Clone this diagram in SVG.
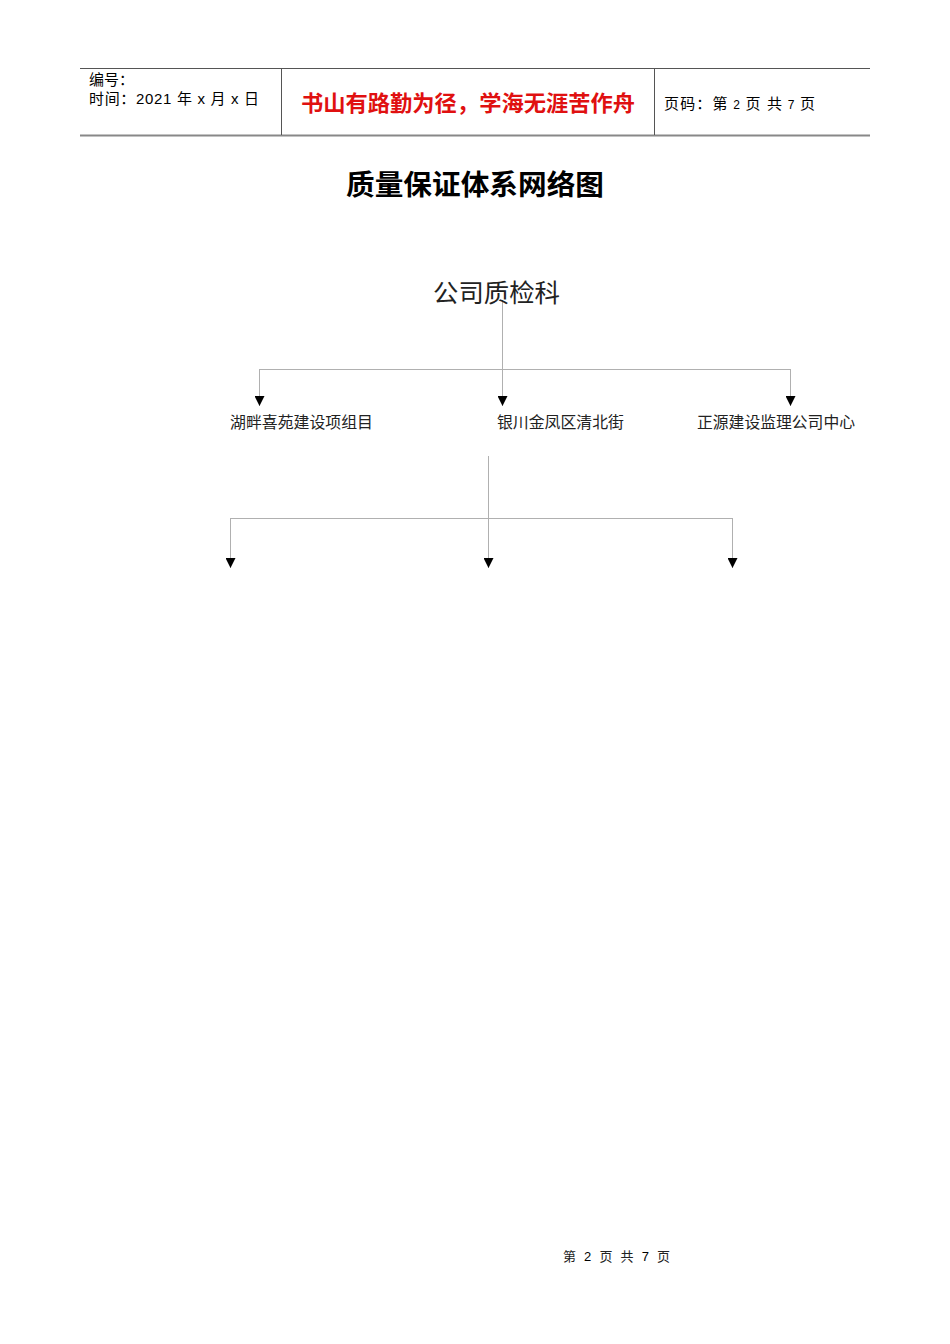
<svg xmlns="http://www.w3.org/2000/svg" width="950" height="1344" viewBox="0 0 950 1344">
<style>
.t{font-family:"Liberation Sans","Noto Sans CJK SC",sans-serif;fill:#000}
.s{font-family:"Liberation Serif","Noto Sans CJK SC",serif;fill:#222}
.ln{stroke:#b0b0b0;stroke-width:1;fill:none}
</style>
<defs>
<marker id="ah" markerWidth="10" markerHeight="10" refX="10" refY="5" orient="auto" markerUnits="userSpaceOnUse" viewBox="0 0 10 10">
<path d="M0,0 L10,5 L0,10 Z" fill="#000"/>
</marker>
</defs>
<rect width="950" height="1344" fill="#fff"/>
<g id="header">
<line x1="80" y1="68.5" x2="870" y2="68.5" stroke="#555" stroke-width="1"/>
<line x1="80" y1="135.5" x2="870" y2="135.5" stroke="#888" stroke-width="2"/>
<line x1="281.5" y1="68" x2="281.5" y2="135" stroke="#555" stroke-width="1"/>
<line x1="654.5" y1="68" x2="654.5" y2="135" stroke="#555" stroke-width="1"/>
<text class="t" x="89" y="85" font-size="15">编号：</text>
<text class="t" x="89" y="104" font-size="15" textLength="170" lengthAdjust="spacing">时间：2021 年 x 月 x 日</text>
<text x="301" y="111" font-size="22" font-weight="bold" fill="#e01010" font-family="'Noto Sans CJK SC',sans-serif" textLength="334" lengthAdjust="spacingAndGlyphs">书山有路勤为径，学海无涯苦作舟</text>
<text class="t" x="664" y="109" font-size="15" textLength="151" lengthAdjust="spacing">页码：第<tspan font-size="12"> 2 </tspan>页 共<tspan font-size="12"> 7 </tspan>页</text>
</g>
<text id="title" class="t" x="346" y="195" font-size="28" font-weight="bold" textLength="258" lengthAdjust="spacingAndGlyphs">质量保证体系网络图</text>
<g id="connectors">
<line class="ln" x1="502.5" y1="300" x2="502.5" y2="406" marker-end="url(#ah)"/>
<line class="ln" x1="259.5" y1="369.5" x2="790.5" y2="369.5"/>
<line class="ln" x1="259.5" y1="369" x2="259.5" y2="406" marker-end="url(#ah)"/>
<line class="ln" x1="790.5" y1="369" x2="790.5" y2="406" marker-end="url(#ah)"/>
<line class="ln" x1="488.5" y1="456" x2="488.5" y2="568" marker-end="url(#ah)"/>
<line class="ln" x1="230.5" y1="518.5" x2="732.5" y2="518.5"/>
<line class="ln" x1="230.5" y1="518" x2="230.5" y2="568" marker-end="url(#ah)"/>
<line class="ln" x1="732.5" y1="518" x2="732.5" y2="568" marker-end="url(#ah)"/>
</g>
<g id="n_root"><text class="s" x="433" y="302" font-size="25" textLength="127" lengthAdjust="spacingAndGlyphs">公司质检科</text></g>
<g id="n1"><text class="s" x="230" y="428" font-size="15.5" textLength="143" lengthAdjust="spacingAndGlyphs">湖畔喜苑建设项组目</text></g>
<g id="n2"><text class="s" x="497" y="428" font-size="15.5" textLength="127" lengthAdjust="spacingAndGlyphs">银川金凤区清北街</text></g>
<g id="n3"><text class="s" x="697" y="428" font-size="15.5" textLength="158" lengthAdjust="spacingAndGlyphs">正源建设监理公司中心</text></g>
<text id="footer" class="s" x="563" y="1261" font-size="13" textLength="107" lengthAdjust="spacing">第 <tspan class="t">2</tspan> 页 共 <tspan class="t">7</tspan> 页</text>
</svg>
